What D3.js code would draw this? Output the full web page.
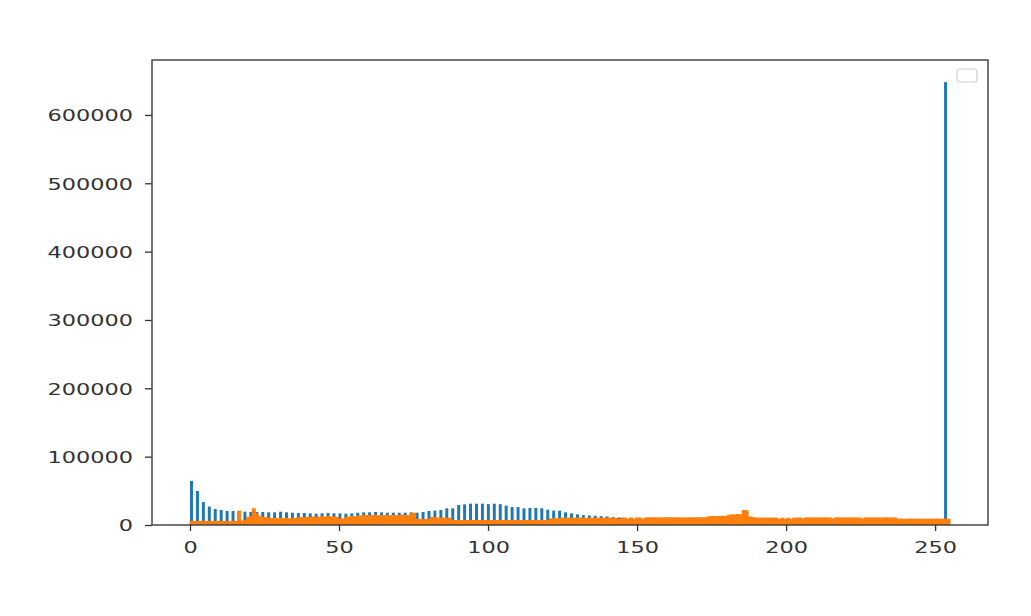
<!DOCTYPE html>
<html>
<head>
<meta charset="utf-8">
<script src="https://cdn.jsdelivr.net/npm/d3@7"></script>
<style>
  html, body { margin: 0; padding: 0; background: #fff; }
  svg { display: block; }
</style>
</head>
<body>
<div id="chart"></div>
<script>
// ---- data ----
const binCount = 256;
const dataMax = 255;

// blue series: non-empty bins and their counts
const blueBins = [0, 2, 4, 6, 8, 10, 12, 14, 16, 18, 20, 22, 24, 26, 28, 30, 32, 34, 36, 38,
  40, 42, 44, 46, 48, 50, 52, 54, 56, 58, 60, 62, 64, 66, 68, 70, 72, 74, 76, 78,
  80, 82, 84, 86, 88, 90, 92, 94, 96, 98, 100, 102, 104, 106, 108, 110, 112, 114, 116, 118,
  120, 122, 124, 126, 128, 130, 132, 134, 136, 138, 140, 142, 144, 254];
const blueCounts = [64400, 49800, 33700, 27000, 23400, 22000, 20500, 20500, 19500, 19500,
  19000, 19000, 19000, 18500, 18500, 19500, 18500, 18000, 17500, 17500,
  17000, 16500, 17000, 17500, 17000, 17000, 16500, 17000, 18000, 18500,
  18500, 19000, 18500, 18000, 18000, 18000, 18000, 18500, 18000, 19000,
  20500, 21000, 22000, 24400, 24400, 29300, 30200, 31200, 31200, 31200,
  30500, 31200, 30500, 28300, 26300, 26300, 24400, 25000, 25000, 24400,
  22400, 21000, 21000, 18500, 17000, 15600, 14500, 14000, 13500, 13000,
  12500, 11500, 11000, 648000];

// orange series: counts for every bin 0..255
const orangeCounts = [
  6200, 6000, 5800, 6000, 6100, 5900, 6000, 6000, 5800, 6000, 6100, 6000, 5900, 6000, 6200, 6000,
  21000, 6500, 7000, 12000, 13000, 24500, 17000, 13000, 12000, 11500, 11000, 10000, 10200, 9800, 10500, 10000,
  10300, 9900, 10400, 10200, 11000, 11500, 11200, 12000, 11800, 12500, 12000, 12300, 12800, 12500, 13000, 12700,
  12500, 12000, 9800, 9500, 11500, 12500, 13000, 12800, 13500, 14000, 14500, 14800, 14200, 14600, 15000, 14400,
  14800, 14600, 14900, 14300, 14700, 14500, 14800, 15200, 14600, 14400, 17500, 18000, 8800, 9000, 8700, 8900,
  9200, 12000, 11500, 11000, 10700, 10800, 10500, 10700, 7400, 7200, 7300, 7100, 7400, 7300, 7200, 7500,
  7300, 7100, 7200, 7400, 7300, 7200, 7300, 7500, 7400, 7200, 7100, 7300, 7400, 7200, 7300, 7500,
  7300, 7200, 7100, 7300, 7400, 7200, 7300, 7500, 7400, 9800, 10000, 9600, 10200, 10700, 10500, 10700,
  10500, 10800, 10600, 10900, 10700, 10400, 10800, 10600, 10700, 10500, 10900, 10600, 10800, 10700, 10500, 10600,
  9000, 11000, 10800, 9200, 11100, 9000, 10900, 11000, 9100, 11000, 11200, 11100, 11300, 11200, 11000, 11300,
  11200, 11400, 11100, 11200, 11300, 11200, 11000, 11200, 11300, 11100, 11200, 11400, 11200, 11300, 12500, 13000,
  13200, 12800, 13300, 13500, 13000, 15000, 15600, 15300, 16000, 15800, 22000, 21500, 12500, 12000, 10800, 10700,
  10900, 10600, 10800, 10700, 10900, 10700, 8800, 10700, 8900, 10600, 8800, 10800, 10700, 11000, 9500, 11100,
  11000, 11200, 11100, 10900, 11000, 11200, 11100, 11000, 9400, 11100, 11200, 11000, 11100, 10900, 11000, 11200,
  11100, 11000, 9300, 11100, 11000, 11200, 11000, 11100, 10900, 11000, 11200, 11100, 11000, 10900, 9200, 9300,
  9100, 9200, 9400, 9200, 9100, 9300, 9200, 9200, 9100, 9300, 9200, 9400, 9200, 9100, 9300, 9200
];

const xTicks = [0, 50, 100, 150, 200, 250];
const yTicks = [0, 100000, 200000, 300000, 400000, 500000, 600000];

// ---- layout ----
const W = 1031, H = 616;
const frame = { left: 152, right: 988, top: 60, bottom: 525 };
const binW = dataMax / binCount;
const textScaleX = 1.4;

const svg = d3.select("#chart").append("svg").attr("width", W).attr("height", H);

const xPad = dataMax * 0.05;
const x = d3.scaleLinear().domain([0 - xPad, dataMax + xPad]).range([frame.left, frame.right]);
const yMax = d3.max([d3.max(blueCounts), d3.max(orangeCounts)]) * 1.05;
const y = d3.scaleLinear().domain([0, yMax]).range([frame.bottom, frame.top]);

const blueData = blueBins.map((b, i) => ({ bin: b, v: blueCounts[i] }));
const orangeData = orangeCounts.map((v, i) => ({ bin: i, v }));

const plot = svg.append("g");
plot.selectAll("rect.blue").data(blueData).join("rect")
  .attr("class", "blue")
  .attr("x", d => x(d.bin * binW))
  .attr("width", d => x((d.bin + 1) * binW) - x(d.bin * binW))
  .attr("y", d => y(d.v))
  .attr("height", d => y(0) - y(d.v))
  .attr("fill", "#1f77b4");

// orange bars: slightly overlapped so the filled histogram reads as continuous
const orangeG = plot.append("g");
orangeG.selectAll("rect.orange").data(orangeData).join("rect")
  .attr("class", "orange")
  .attr("x", d => x(d.bin * binW) - 0.5)
  .attr("width", d => x((d.bin + 1) * binW) - x(d.bin * binW) + 1)
  .attr("y", d => y(d.v))
  .attr("height", d => y(0) - y(d.v))
  .attr("fill", "#ff7f0e");

// axes
const fontFamily = "DejaVu Sans, sans-serif";
const textColor = "#333";
const gx = svg.append("g").attr("transform", `translate(0,${frame.bottom})`)
  .call(d3.axisBottom(x).tickValues(xTicks).tickSize(6).tickFormat(d3.format("d")));
gx.select(".domain").remove();
gx.selectAll(".tick line").attr("stroke", "#333").attr("stroke-width", 1.3);
gx.selectAll(".tick text")
  .attr("y", null).attr("dy", null)
  .attr("transform", `translate(0,28) scale(${textScaleX},1)`)
  .attr("font-family", fontFamily).attr("font-size", 16).attr("fill", textColor);

const gy = svg.append("g").attr("transform", `translate(${frame.left},0)`)
  .call(d3.axisLeft(y).tickValues(yTicks).tickSize(7).tickFormat(d3.format("d")));
gy.select(".domain").remove();
gy.selectAll(".tick line").attr("stroke", "#333").attr("stroke-width", 1.3);
gy.selectAll(".tick text")
  .attr("x", null).attr("dy", "0.36em")
  .attr("transform", `translate(-19,0) scale(${textScaleX},1)`)
  .attr("font-family", fontFamily).attr("font-size", 16).attr("fill", textColor);

// frame
svg.append("rect")
  .attr("x", frame.left).attr("y", frame.top)
  .attr("width", frame.right - frame.left).attr("height", frame.bottom - frame.top)
  .attr("fill", "none").attr("stroke", "#3a3a3a").attr("stroke-width", 1.4);

// empty legend box
svg.append("rect")
  .attr("x", frame.right - 31).attr("y", frame.top + 9)
  .attr("width", 20).attr("height", 13).attr("rx", 3)
  .attr("fill", "#fff").attr("stroke", "#d0d0d0").attr("stroke-width", 1.2);
</script>
</body>
</html>
